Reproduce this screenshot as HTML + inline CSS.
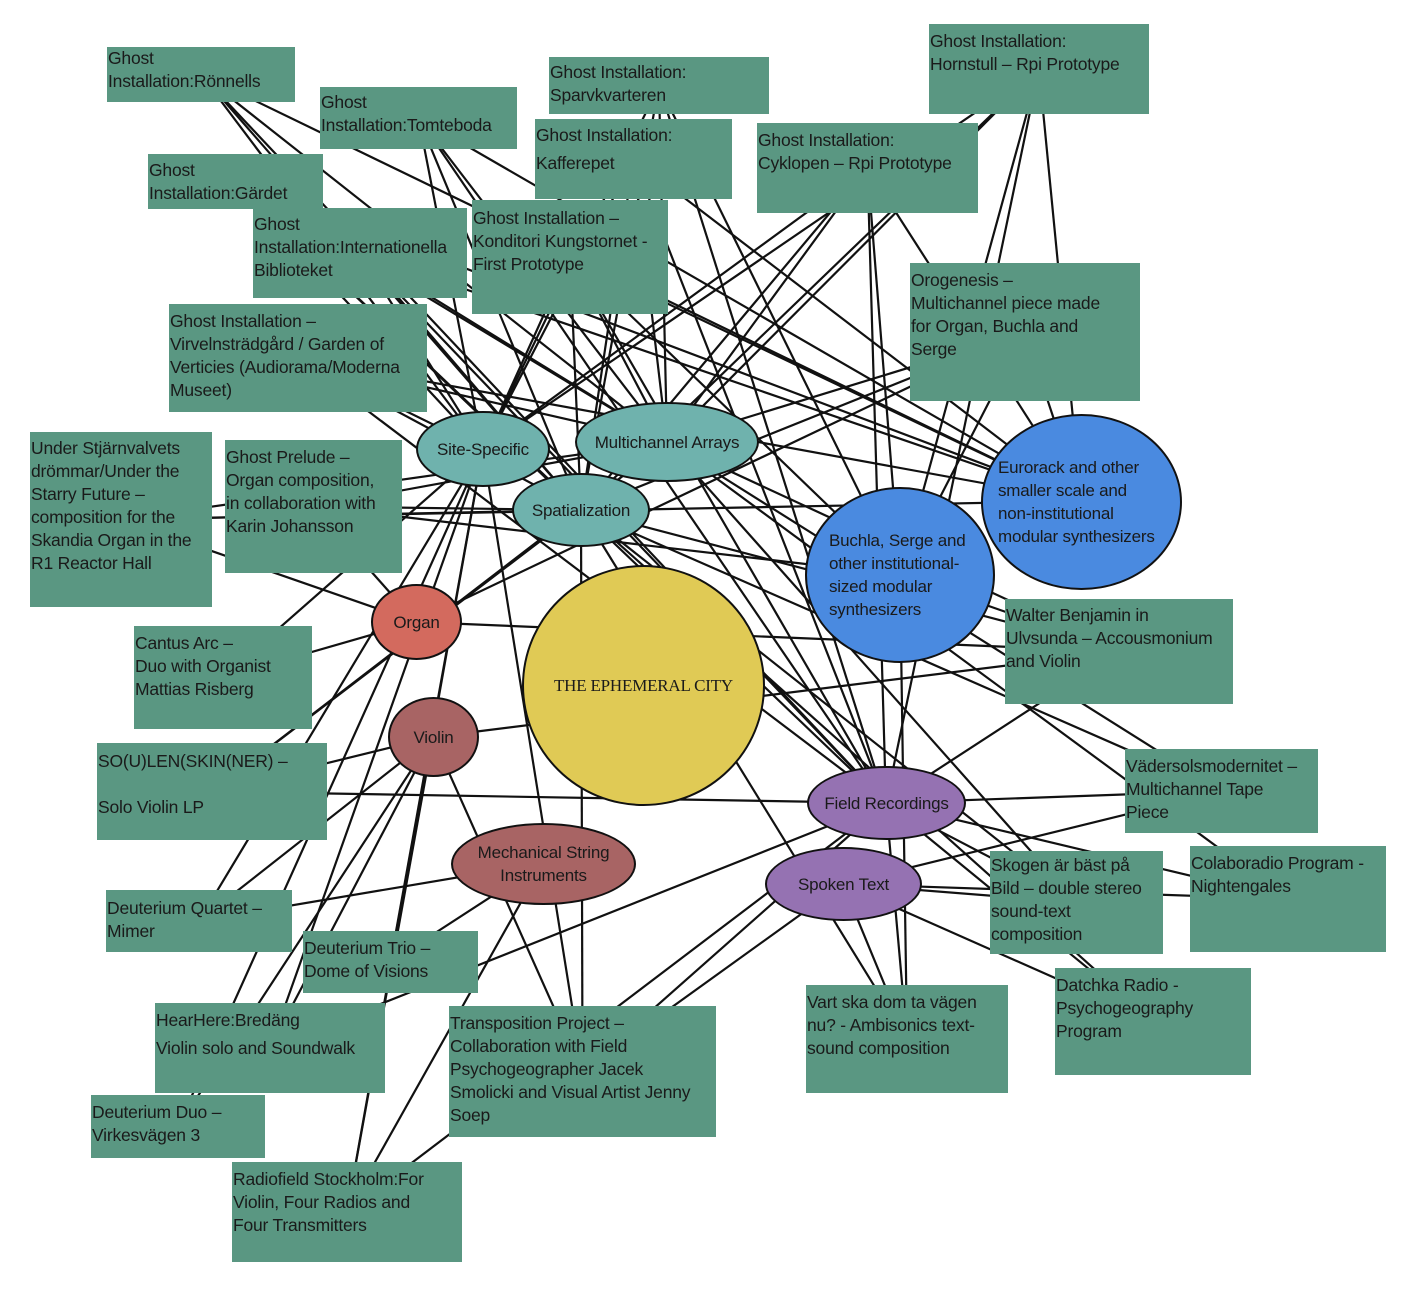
<!DOCTYPE html>
<html><head><meta charset="utf-8">
<style>
html,body{margin:0;padding:0;background:#fff;}
#c{position:relative;width:1417px;height:1292px;overflow:hidden;font-family:"Liberation Sans",sans-serif;}
svg{position:absolute;left:0;top:0;}
.b{position:absolute;background:#5a9782;color:#1a1a1a;font-size:17.5px;line-height:23px;letter-spacing:-0.2px;box-sizing:border-box;padding:0 1px;overflow:hidden;white-space:nowrap;}
.e{position:absolute;border:2px solid #111;border-radius:50%;box-sizing:border-box;display:flex;align-items:center;justify-content:center;text-align:center;font-size:17px;line-height:23px;color:#1a1a1a;letter-spacing:-0.2px;white-space:nowrap;}
</style></head><body>
<div id="c">
<svg id="s" width="1417" height="1292"></svg>

<div class="b" style="left:107px;top:47px;width:188px;height:55px">Ghost<br>Installation:Rönnells</div>
<div class="b" style="left:320px;top:87px;width:197px;height:62px;padding-top:4px">Ghost<br>Installation:Tomteboda</div>
<div class="b" style="left:549px;top:57px;width:220px;height:57px;padding-top:4px">Ghost Installation:<br>Sparvkvarteren</div>
<div class="b" style="left:929px;top:24px;width:220px;height:90px;padding-top:6px">Ghost Installation:<br>Hornstull – Rpi Prototype</div>
<div class="b" style="left:535px;top:119px;width:197px;height:80px;padding-top:5px">Ghost Installation:<br><span style="line-height:32px">Kafferepet</span></div>
<div class="b" style="left:757px;top:123px;width:221px;height:90px;padding-top:6px">Ghost Installation:<br>Cyklopen – Rpi Prototype</div>
<div class="b" style="left:148px;top:154px;width:175px;height:55px;padding-top:5px">Ghost<br>Installation:Gärdet</div>
<div class="b" style="left:253px;top:208px;width:214px;height:90px;padding-top:5px">Ghost<br>Installation:Internationella<br>Biblioteket</div>
<div class="b" style="left:472px;top:200px;width:196px;height:114px;padding-top:7px">Ghost Installation –<br>Konditori Kungstornet -<br>First Prototype</div>
<div class="b" style="left:910px;top:263px;width:230px;height:138px;padding-top:6px">Orogenesis –<br>Multichannel piece made<br>for Organ, Buchla and<br>Serge</div>
<div class="b" style="left:169px;top:304px;width:258px;height:108px;padding-top:6px">Ghost Installation –<br>Virvelnsträdgård / Garden of<br>Verticies (Audiorama/Moderna<br>Museet)</div>
<div class="b" style="left:30px;top:432px;width:182px;height:175px;padding-top:5px">Under Stjärnvalvets<br>drömmar/Under the<br>Starry Future –<br>composition for the<br>Skandia Organ in the<br>R1 Reactor Hall</div>
<div class="b" style="left:225px;top:440px;width:177px;height:133px;padding-top:6px">Ghost Prelude –<br>Organ composition,<br>in collaboration with<br>Karin Johansson</div>
<div class="b" style="left:1005px;top:599px;width:228px;height:105px;padding-top:5px">Walter Benjamin in<br>Ulvsunda – Accousmonium<br>and Violin</div>
<div class="b" style="left:134px;top:626px;width:178px;height:103px;padding-top:6px">Cantus Arc –<br>Duo with Organist<br>Mattias Risberg</div>
<div class="b" style="left:97px;top:743px;width:230px;height:97px;padding-top:7px">SO(U)LEN(SKIN(NER) –<br><br>Solo Violin LP</div>
<div class="b" style="left:1125px;top:749px;width:193px;height:84px;padding-top:6px">Vädersolsmodernitet –<br>Multichannel Tape<br>Piece</div>
<div class="b" style="left:990px;top:851px;width:173px;height:103px;padding-top:3px">Skogen är bäst på<br>Bild – double stereo<br>sound-text<br>composition</div>
<div class="b" style="left:1190px;top:846px;width:196px;height:106px;padding-top:6px">Colaboradio Program -<br>Nightengales</div>
<div class="b" style="left:106px;top:890px;width:186px;height:62px;padding-top:7px">Deuterium Quartet –<br>Mimer</div>
<div class="b" style="left:303px;top:931px;width:175px;height:62px;padding-top:6px">Deuterium Trio –<br>Dome of Visions</div>
<div class="b" style="left:1055px;top:968px;width:196px;height:107px;padding-top:6px">Datchka Radio -<br>Psychogeography<br>Program</div>
<div class="b" style="left:806px;top:985px;width:202px;height:108px;padding-top:6px">Vart ska dom ta vägen<br>nu? - Ambisonics text-<br>sound composition</div>
<div class="b" style="left:155px;top:1003px;width:230px;height:90px;padding-top:6px">HearHere:Bredäng<br><span style="line-height:32px">Violin solo and Soundwalk</span></div>
<div class="b" style="left:449px;top:1006px;width:267px;height:131px;padding-top:6px">Transposition Project –<br>Collaboration with Field<br>Psychogeographer  Jacek<br>Smolicki and Visual Artist Jenny<br>Soep</div>
<div class="b" style="left:91px;top:1095px;width:174px;height:63px;padding-top:6px">Deuterium Duo –<br>Virkesvägen 3</div>
<div class="b" style="left:232px;top:1162px;width:230px;height:100px;padding-top:6px">Radiofield Stockholm:For<br>Violin, Four Radios and<br>Four Transmitters</div>

<div class="e" style="left:416px;top:411px;width:134px;height:76px;background:#6fb2ad">Site-Specific</div>
<div class="e" style="left:575px;top:402px;width:184px;height:80px;background:#6fb2ad">Multichannel Arrays</div>
<div class="e" style="left:512px;top:473px;width:138px;height:74px;background:#6fb2ad">Spatialization</div>
<div class="e" style="left:371px;top:584px;width:91px;height:76px;background:#d36a5e">Organ</div>
<div class="e" style="left:388px;top:697px;width:91px;height:80px;background:#a86464">Violin</div>
<div class="e" style="left:451px;top:823px;width:185px;height:82px;background:#a86464;line-height:23px">Mechanical String<br>Instruments</div>
<div class="e" style="left:522px;top:565px;width:243px;height:241px;background:#e0ca55;font-family:'Liberation Serif',serif;font-size:17px">THE EPHEMERAL CITY</div>
<div class="e" style="left:981px;top:414px;width:201px;height:176px;background:#4a8ae0;text-align:left;justify-content:flex-start;padding-left:15px">Eurorack and other<br>smaller scale and<br>non-institutional<br>modular synthesizers</div>
<div class="e" style="left:805px;top:487px;width:190px;height:176px;background:#4a8ae0;text-align:left;justify-content:flex-start;padding-left:22px">Buchla, Serge and<br>other institutional-<br>sized modular<br>synthesizers</div>
<div class="e" style="left:807px;top:766px;width:159px;height:74px;background:#9572b2">Field Recordings</div>
<div class="e" style="left:765px;top:847px;width:157px;height:74px;background:#9572b2">Spoken Text</div>
</div>
<script>
var N={SS:[483,449],MA:[667,442],SP:[581,510],Org:[416,622],Vio:[433,737],MSI:[543,863],EC:[643,685],BS:[900,575],EU:[1081,501],FR:[886,803],ST:[843,884]};
var B=[[107,47,188,55,"SS MA SP EU FR"],[320,87,197,62,"SS MA SP EU FR"],[549,57,220,57,"SS MA SP BS FR"],[929,24,220,90,"SS MA SP EU BS FR"],[535,119,197,80,"SS MA SP EU FR"],[757,123,221,90,"SS MA SP EU BS FR"],[148,154,175,55,"SS MA SP EU FR"],[253,208,214,90,"SS MA SP EU FR"],[472,200,196,114,"SS MA SP EU BS FR"],[910,263,230,138,"Org MA SP BS EU"],[169,304,258,108,"SS MA SP EU FR"],[30,432,182,175,"Org MA SP EU"],[225,440,177,133,"Org MA SP BS"],[1005,599,228,105,"Org Vio MA SP BS FR"],[134,626,178,103,"Org SS"],[97,743,230,97,"Vio MA SP FR"],[1125,749,193,84,"MA SP FR ST"],[990,851,173,103,"MA SP FR ST"],[1190,846,196,106,"FR ST MA"],[106,890,186,62,"Vio MSI SS"],[303,931,175,62,"Vio MSI SS"],[1055,968,196,107,"FR ST SP"],[806,985,202,108,"ST FR SP BS"],[155,1003,230,90,"Vio SS FR"],[449,1006,267,131,"SS FR ST Vio SP"],[91,1095,174,63,"Vio SS"],[232,1162,230,100,"Vio SS FR MSI"]];
var h='';
B.forEach(function(b){var cx=b[0]+b[2]/2,cy=b[1]+b[3]/2;b[4].split(' ').forEach(function(k){var n=N[k];h+='<line x1="'+cx+'" y1="'+cy+'" x2="'+n[0]+'" y2="'+n[1]+'"/>';});});
document.getElementById('s').innerHTML='<g stroke="#111" stroke-width="2.2">'+h+'</g>';
</script>
</body></html>
